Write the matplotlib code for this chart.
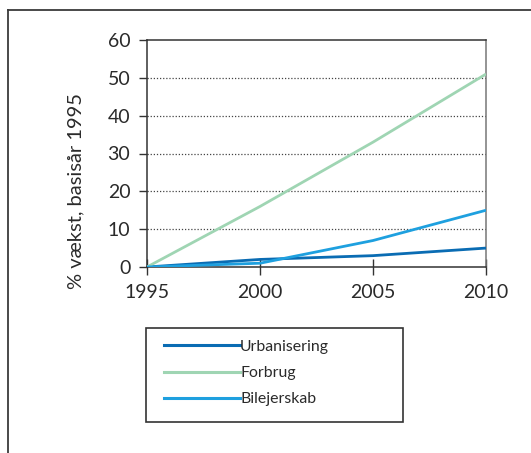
import matplotlib
matplotlib.use("Agg")
import matplotlib.pyplot as plt
from matplotlib.lines import Line2D
from matplotlib.patches import Rectangle

plt.rcParams['font.family'] = ['Lato', 'DejaVu Sans']

years = [1995, 2000, 2005, 2010]
urbanisering = [0, 2, 3, 5]
forbrug = [0, 16, 33, 51]
bilejerskab = [0, 1, 7, 15]

series_names = ["Urbanisering", "Forbrug", "Bilejerskab"]
series_values = [urbanisering, forbrug, bilejerskab]
series_colors = ["#0a6cb3", "#9fd5b3", "#1ea0df"]

y_ticks = [0, 10, 20, 30, 40, 50, 60]
x_ticks = [1995, 2000, 2005, 2010]
y_label = "% vækst, basisår 1995"

W, H = 531, 453
fig = plt.figure(figsize=(W / 100, H / 100), dpi=100)
text_col = "#2a2a2a"

# outer frame (left and top edges)
frame_col = "#3a3a3a"
fig.add_artist(Line2D([8 / W, 8 / W], [0, 1 - 10 / H], transform=fig.transFigure,
                      color=frame_col, lw=1.3))
fig.add_artist(Line2D([8 / W, 1], [1 - 10 / H, 1 - 10 / H], transform=fig.transFigure,
                      color=frame_col, lw=1.3))

ax = fig.add_axes([147 / W, 1 - 267 / H, (486 - 147) / W, (267 - 40) / H])

for name, vals, col in zip(series_names, series_values, series_colors):
    ax.plot(years, vals, color=col, lw=2.0, solid_capstyle='butt', label=name, zorder=3)

ax.set_xlim(1995, 2010)
ax.set_ylim(0, 60)
ax.set_xticks(x_ticks)
ax.set_yticks(y_ticks)

for y in y_ticks[1:-1]:
    ax.axhline(y, color="#444444", lw=0.9, ls=(0, (1, 1.5)), zorder=1)

for s in ['left', 'bottom', 'top']:
    ax.spines[s].set_color("#333333")
    ax.spines[s].set_linewidth(1.1)
ax.spines['right'].set_color("#777777")
ax.spines['right'].set_linewidth(1.1)

ax.tick_params(axis='y', direction='out', length=6, width=1.0, color="#333333",
               labelsize=14, pad=6, labelcolor=text_col)
ax.tick_params(axis='x', direction='inout', length=12, width=1.0, color="#333333",
               labelsize=14, pad=6, labelcolor=text_col)

fig.text(76 / W, 1 - 191 / H, y_label, rotation=90, fontsize=14.5, color=text_col,
         ha='center', va='center')

# legend box
lx0, lx1, ly0, ly1 = 146, 403, 328, 422
fig.add_artist(Rectangle((lx0 / W, 1 - ly1 / H), (lx1 - lx0) / W, (ly1 - ly0) / H,
                         transform=fig.transFigure, facecolor="white",
                         edgecolor="#333333", lw=1.2))
rows = [345, 372, 398]
for name, col, ry in zip(series_names, series_colors, rows):
    fig.add_artist(Line2D([164 / W, 240 / W], [1 - ry / H, 1 - ry / H],
                          transform=fig.transFigure, color=col, lw=2.2))
    fig.text(240 / W, 1 - (ry + 1.5) / H, name, fontsize=11.4, color=text_col,
             ha='left', va='center')

fig.savefig("out.png", dpi=100)
